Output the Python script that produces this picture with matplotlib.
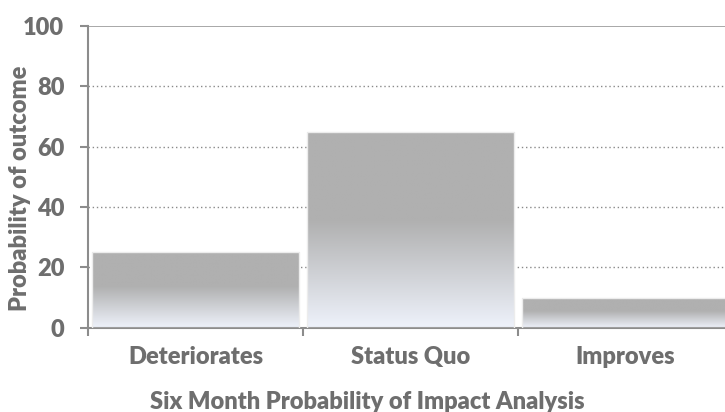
import numpy as np
import matplotlib
matplotlib.use("Agg")
import matplotlib.pyplot as plt
from matplotlib.colors import LinearSegmentedColormap

categories = ["Deteriorates", "Status Quo", "Improves"]
values = [25, 65, 10]
yticks = [0, 20, 40, 60, 80, 100]
ylabel = "Probability of outcome"
xlabel = "Six Month Probability of Impact Analysis"

plt.rcParams['font.family'] = ['Lato', 'DejaVu Sans']
TXT = '#6e6e6e'
AX = '#8c8c8c'
FW = 'heavy'

fig = plt.figure(figsize=(7.25, 4.12), dpi=100)
ax = fig.add_axes([88/725, 84.3/412, 645/725, 301.7/412])

x = np.arange(len(categories))
bars = ax.bar(x, values, width=0.963, color='none', edgecolor='#ececec', linewidth=1.0, zorder=3)

cmap = LinearSegmentedColormap.from_list(
    'g', [(0.0, '#b0b0b0'), (0.45, '#b0b0b0'), (1.0, '#eef2fb')])
grad = np.linspace(0, 1, 256).reshape(-1, 1)
for b in bars:
    x0, y0 = b.get_x(), b.get_y()
    w, h = b.get_width(), b.get_height()
    im = ax.imshow(grad, cmap=cmap, aspect='auto', extent=[x0, x0 + w, y0, y0 + h],
                   origin='upper', zorder=2, interpolation='bilinear')
    im.set_clip_path(b)

ax.set_xlim(-0.5, len(categories) - 0.5)
ax.set_ylim(0, 100)

# gridlines
for t in yticks[1:-1]:
    ax.axhline(t, color='#8a8a8a', linestyle=(0, (1, 2)), linewidth=1.0, zorder=1)
ax.axhline(100, color='#9a9a9a', linestyle='-', linewidth=1.2, zorder=1)

for s in ['top', 'right']:
    ax.spines[s].set_visible(False)
for s in ['left', 'bottom']:
    ax.spines[s].set_color(AX)
    ax.spines[s].set_linewidth(1.5)

ax.set_yticks(yticks)
ax.set_yticklabels([str(v) for v in yticks], fontsize=17, fontweight=FW, color=TXT)
ax.tick_params(axis='y', length=6, width=1.5, color=AX, pad=11)

ax.set_xticks(np.arange(-0.5, len(categories) + 0.5, 1.0))
ax.set_xticklabels([])
ax.tick_params(axis='x', which='major', length=6, width=1.5, color=AX, direction='out')
ax.set_xticks(x, minor=True)
ax.set_xticklabels(categories, minor=True, fontsize=17, fontweight=FW, color=TXT)
ax.tick_params(axis='x', which='minor', length=0, pad=13)

fig.text(367/725, (412 - 402)/412, xlabel, ha='center', va='center',
         fontsize=17, fontweight=FW, color=TXT)
fig.text(20/725, (412 - 188.5)/412, ylabel, ha='center', va='center', rotation=90,
         fontsize=17, fontweight=FW, color=TXT)

fig.savefig('out.png', dpi=100)
